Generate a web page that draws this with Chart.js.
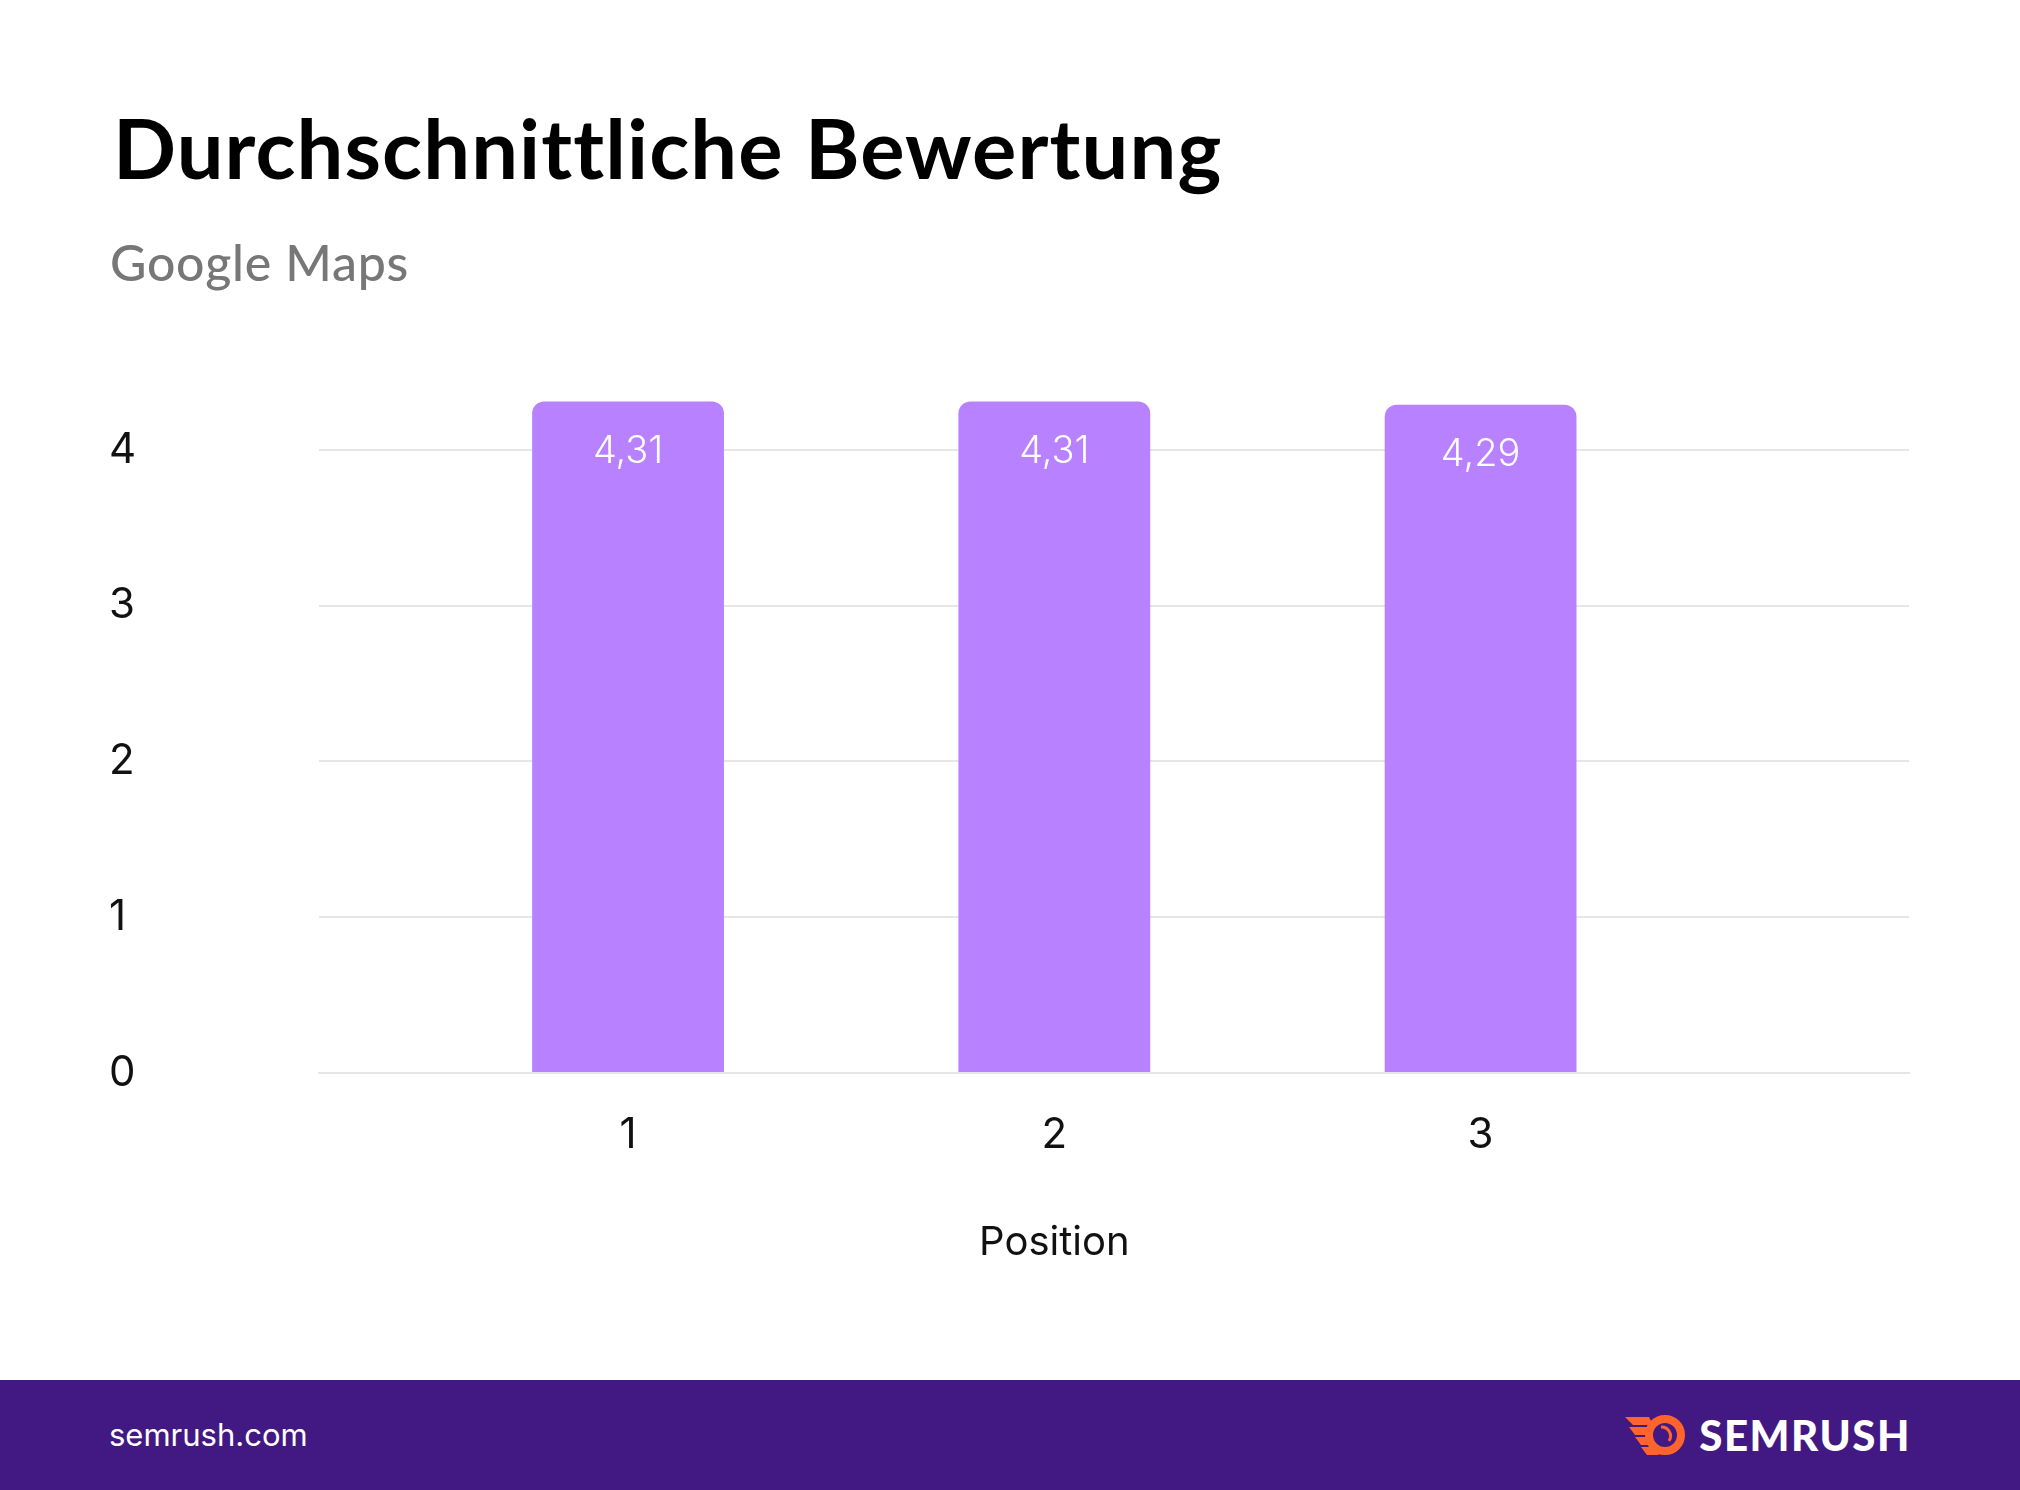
<!DOCTYPE html>
<html><head><meta charset="utf-8">
<script src="https://cdn.jsdelivr.net/npm/chart.js@4.4.0/dist/chart.umd.min.js"></script>
<style>
html,body{margin:0;padding:0;background:#fff;}
body{width:2020px;height:1490px;position:relative;overflow:hidden;font-family:Inter,"Noto Sans",sans-serif;}
#title{position:absolute;left:113px;top:106px;font:700 83px/1 Lato,sans-serif;color:#000;white-space:nowrap;z-index:2;}
#subtitle{position:absolute;left:110px;top:237px;font:500 50px/1 Lato,sans-serif;color:#777;white-space:nowrap;z-index:2;}
#chartwrap{position:absolute;left:0;top:0;width:2020px;height:1380px;z-index:1;}
#footer{position:absolute;left:0;top:1380px;width:2020px;height:110px;background:#421983;}
#site{position:absolute;left:109px;top:0;height:110px;color:#fff;font:400 31px/110px Inter,sans-serif;}
#logo{position:absolute;right:109px;top:0;height:110px;display:flex;align-items:center;gap:12px;}
#logo span{font:900 42px/1 Lato,sans-serif;color:#fff;letter-spacing:1.5px;}
</style>
</head><body>
<div id="title">Durchschnittliche Bewertung</div>
<div id="subtitle">Google Maps</div>
<div id="chartwrap"><canvas id="c"></canvas></div>
<div id="footer">
  <div id="site">semrush.com</div>
  <div id="logo">
    <svg width="64" height="44" viewBox="0 0 64 44">
      <path d="M2 4 L26 4 L30 12 L10 12 Z" fill="#FF642D"/>
      <path d="M6 14 L24 14 L24 22 L12 22 Z" fill="#FF642D"/>
      <path d="M12 24 L25 24 L28 32 L18 32 Z" fill="#FF642D"/>
      <path d="M18 34 L30 34 L36 42 L24 42 Z" fill="#FF642D"/>
      <circle cx="42" cy="22" r="16" fill="none" stroke="#FF642D" stroke-width="8"/>
      <path d="M38 14 A9 9 0 0 1 46 28" fill="none" stroke="#FF642D" stroke-width="3"/>
    </svg>
    <span>SEMRUSH</span>
  </div>
</div>
<script>
const categories = ['1', '2', '3'];
const values = [4.31, 4.31, 4.29];
const yTicks = [0, 1, 2, 3, 4];
const xTitle = 'Position';

const fmt = v => v.toFixed(2).replace('.', ',');

function fitWidth(id, target) {
  const el = document.getElementById(id);
  const w = el.getBoundingClientRect().width;
  const n = el.textContent.length;
  el.style.letterSpacing = ((target - w) / n) + 'px';
}
fitWidth('title', 1106);
fitWidth('subtitle', 299);

const valueLabels = {
  id: 'valueLabels',
  afterDatasetsDraw(chart) {
    const ctx = chart.ctx;
    const meta = chart.getDatasetMeta(0);
    ctx.save();
    ctx.fillStyle = '#ffffff';
    ctx.font = '300 38px Inter';
    ctx.textAlign = 'center';
    ctx.textBaseline = 'middle';
    meta.data.forEach((el, i) => {
      ctx.fillText(fmt(values[i]), el.x, el.y + 50);
    });
    ctx.restore();
  }
};

// x-axis title centred under the category block
const xAxisTitle = {
  id: 'xAxisTitle',
  afterDraw(chart) {
    const ctx = chart.ctx;
    const xs = chart.scales.x;
    const cx = (xs.getPixelForValue(1) + xs.getPixelForValue(categories.length)) / 2;
    ctx.save();
    ctx.fillStyle = '#111';
    ctx.font = '400 40px Inter';
    ctx.textAlign = 'center';
    ctx.textBaseline = 'middle';
    ctx.fillText(xTitle, cx, xs.bottom - 137);
    ctx.restore();
  }
};

new Chart(document.getElementById('c'), {
  type: 'bar',
  data: {
    datasets: [{
      data: categories.map((c, i) => ({ x: i + 1, y: values[i] })),
      backgroundColor: '#B881FF',
      borderRadius: 12,
      borderSkipped: 'start',
      categoryPercentage: 1,
      barPercentage: 0.45
    }]
  },
  options: {
    responsive: true,
    maintainAspectRatio: false,
    animation: false,
    layout: { padding: { top: 372, left: 109, right: 111, bottom: 0 } },
    plugins: { legend: { display: false }, tooltip: { enabled: false } },
    scales: {
      x: {
        type: 'linear',
        offset: false,
        min: 0.275,
        max: 4.005,
        afterBuildTicks: s => { s.ticks = categories.map((c, i) => ({ value: i + 1 })); },
        afterFit: s => { s.height = 307; },
        grid: { display: false, offset: false },
        border: { display: true, color: '#e6e6e6', width: 2 },
        ticks: {
          padding: 29,
          color: '#111',
          font: { family: 'Inter', size: 42 },
          callback: v => categories[v - 1] ?? ''
        },
        title: { display: false }
      },
      y: {
        min: 0,
        max: 4.5,
        afterBuildTicks: s => { s.ticks = yTicks.map(v => ({ value: v })); },
        afterFit: s => { s.width = 210; },
        ticks: {
          crossAlign: 'far',
          color: '#111',
          font: { family: 'Inter', size: 42 },
          callback: v => String(v)
        },
        grid: { color: '#e6e6e6', lineWidth: 2, drawTicks: false },
        border: { display: false }
      }
    }
  },
  plugins: [valueLabels, xAxisTitle]
});
</script>
</body></html>
